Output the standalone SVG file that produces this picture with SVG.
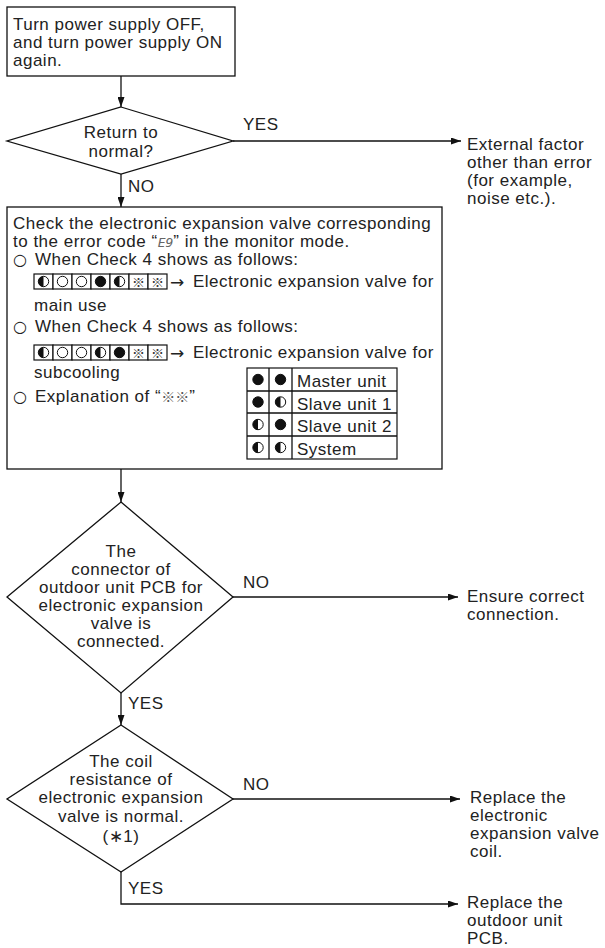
<svg xmlns="http://www.w3.org/2000/svg" width="605" height="948" viewBox="0 0 605 948">
<style>
text{font-family:"Liberation Sans",Arial,sans-serif;font-size:17px;letter-spacing:0.5px;fill:#222}
.c{text-anchor:middle}
.shape{fill:#fff;stroke:#111;stroke-width:1.3}
.ln{fill:none;stroke:#111;stroke-width:1.3}
.cell{fill:#fff;stroke:#111;stroke-width:1.2}
.dot{fill:#111;stroke:#111;stroke-width:1}
.ring{fill:#fff;stroke:#111;stroke-width:1}
.km{font-family:"Noto Sans CJK JP",sans-serif;font-size:13px;letter-spacing:0;fill:#333;text-anchor:middle}
.bul{font-family:"DejaVu Sans",sans-serif;font-size:16px;letter-spacing:0}
.arr{font-family:"DejaVu Sans",sans-serif;font-size:17px;letter-spacing:0}
</style>
<defs>
<marker id="ah" markerUnits="userSpaceOnUse" markerWidth="10" markerHeight="7" refX="10" refY="3.5" orient="auto">
<path d="M0,0 L10,3.5 L0,7 z" fill="#111"/>
</marker>
<g id="half"><circle r="5.2" class="ring"/><path d="M0,-5.2 A5.2,5.2 0 0 0 0,5.2 z" fill="#111"/></g>
<g id="full"><circle r="5.2" class="dot"/></g>
<g id="empty"><circle r="5.2" class="ring"/></g>
</defs>

<g id="connectors">
<line class="ln" x1="121" y1="76" x2="121" y2="107" marker-end="url(#ah)"/>
<line class="ln" x1="233" y1="141" x2="461" y2="141" marker-end="url(#ah)"/>
<line class="ln" x1="121" y1="174" x2="121" y2="207" marker-end="url(#ah)"/>
<line class="ln" x1="121" y1="469" x2="121" y2="502" marker-end="url(#ah)"/>
<line class="ln" x1="233" y1="597" x2="458" y2="597" marker-end="url(#ah)"/>
<line class="ln" x1="121" y1="693" x2="121" y2="725" marker-end="url(#ah)"/>
<line class="ln" x1="233" y1="799" x2="460" y2="799" marker-end="url(#ah)"/>
<polyline class="ln" points="121,872 121,904 458,904" marker-end="url(#ah)"/>
<text x="243" y="130">YES</text>
<text x="128" y="192">NO</text>
<text x="243" y="588">NO</text>
<text x="128" y="709">YES</text>
<text x="243" y="790">NO</text>
<text x="128" y="894">YES</text>
</g>

<g id="start">
<rect class="shape" x="7" y="7" width="228" height="69"/>
<text x="13" y="30">Turn power supply OFF,</text>
<text x="13" y="48">and turn power supply ON</text>
<text x="13" y="66">again.</text>
</g>

<g id="decision1">
<polygon class="shape" points="121,107 233,141 121,174 7,141"/>
<text class="c" x="121" y="138">Return to</text>
<text class="c" x="121" y="157">normal?</text>
</g>

<g id="external">
<text x="467" y="150">External factor</text>
<text x="467" y="168">other than error</text>
<text x="467" y="186">(for example,</text>
<text x="467" y="204">noise etc.).</text>
</g>

<g id="check">
<rect class="shape" x="7" y="207" width="435" height="262"/>
<text x="13" y="229">Check the electronic expansion valve corresponding</text>
<text x="13" y="247">to the error code “<tspan font-family="DejaVu Sans Mono" font-style="italic" font-size="13" letter-spacing="0" fill="#666">E9</tspan>” in the monitor mode.</text>
<text y="265"><tspan class="bul" x="13">○</tspan><tspan x="35">When Check 4 shows as follows:</tspan></text>
<g id="row1">
<rect class="cell" x="34" y="274" width="19" height="15"/>
<rect class="cell" x="53" y="274" width="19" height="15"/>
<rect class="cell" x="72" y="274" width="19" height="15"/>
<rect class="cell" x="91" y="274" width="19" height="15"/>
<rect class="cell" x="110" y="274" width="19" height="15"/>
<rect class="cell" x="129" y="274" width="19" height="15"/>
<rect class="cell" x="148" y="274" width="19" height="15"/>
<use href="#half" x="43.5" y="281.5"/>
<use href="#empty" x="62.5" y="281.5"/>
<use href="#empty" x="81.5" y="281.5"/>
<use href="#full" x="100.5" y="281.5"/>
<use href="#half" x="119.5" y="281.5"/>
<text class="km" x="138.5" y="286.5">※</text>
<text class="km" x="157.5" y="286.5">※</text>
</g>
<text class="arr" x="170" y="288">→</text>
<text x="193" y="287">Electronic expansion valve for</text>
<text x="34" y="311">main use</text>
<text y="332"><tspan class="bul" x="13">○</tspan><tspan x="35">When Check 4 shows as follows:</tspan></text>
<g id="row2">
<rect class="cell" x="34" y="345" width="19" height="15"/>
<rect class="cell" x="53" y="345" width="19" height="15"/>
<rect class="cell" x="72" y="345" width="19" height="15"/>
<rect class="cell" x="91" y="345" width="19" height="15"/>
<rect class="cell" x="110" y="345" width="19" height="15"/>
<rect class="cell" x="129" y="345" width="19" height="15"/>
<rect class="cell" x="148" y="345" width="19" height="15"/>
<use href="#half" x="43.5" y="352.5"/>
<use href="#empty" x="62.5" y="352.5"/>
<use href="#empty" x="81.5" y="352.5"/>
<use href="#half" x="100.5" y="352.5"/>
<use href="#full" x="119.5" y="352.5"/>
<text class="km" x="138.5" y="357.5">※</text>
<text class="km" x="157.5" y="357.5">※</text>
</g>
<text class="arr" x="170" y="359">→</text>
<text x="193" y="358">Electronic expansion valve for</text>
<text x="34" y="378">subcooling</text>
<text y="402"><tspan class="bul" x="13">○</tspan><tspan x="35">Explanation of “<tspan font-family="Noto Sans CJK JP" font-size="14" letter-spacing="0" fill="#555">※※</tspan>”</tspan></text>
<g id="legend">
<rect class="cell" x="247" y="368" width="150" height="91"/>
<line class="ln" x1="269" y1="368" x2="269" y2="459" stroke-width="1.2"/>
<line class="ln" x1="292" y1="368" x2="292" y2="459" stroke-width="1.2"/>
<line class="ln" x1="247" y1="391" x2="397" y2="391" stroke-width="1.2"/>
<line class="ln" x1="247" y1="413" x2="397" y2="413" stroke-width="1.2"/>
<line class="ln" x1="247" y1="436" x2="397" y2="436" stroke-width="1.2"/>
<use href="#full" x="258" y="379.5"/><use href="#full" x="280.5" y="379.5"/>
<use href="#full" x="258" y="402"/><use href="#half" x="280.5" y="402"/>
<use href="#half" x="258" y="424.5"/><use href="#full" x="280.5" y="424.5"/>
<use href="#half" x="258" y="447.5"/><use href="#half" x="280.5" y="447.5"/>
<text x="297" y="387">Master unit</text>
<text x="297" y="410">Slave unit 1</text>
<text x="297" y="432">Slave unit 2</text>
<text x="297" y="455">System</text>
</g>
</g>

<g id="decision2">
<polygon class="shape" points="121,502 233,597 121,693 7,597"/>
<text class="c" x="121" y="557">The</text>
<text class="c" x="121" y="575">connector of</text>
<text class="c" x="121" y="593">outdoor unit PCB for</text>
<text class="c" x="121" y="611">electronic expansion</text>
<text class="c" x="121" y="629">valve is</text>
<text class="c" x="121" y="647">connected.</text>
</g>

<g id="ensure">
<text x="467" y="602">Ensure correct</text>
<text x="467" y="620">connection.</text>
</g>

<g id="decision3">
<polygon class="shape" points="121,725 233,799 121,872 7,799"/>
<text class="c" x="121" y="767">The coil</text>
<text class="c" x="121" y="785">resistance of</text>
<text class="c" x="121" y="803">electronic expansion</text>
<text class="c" x="121" y="822">valve is normal.</text>
<text class="c" x="121" y="842">(∗1)</text>
</g>

<g id="replaceCoil">
<text x="470" y="803">Replace the</text>
<text x="470" y="821">electronic</text>
<text x="470" y="839">expansion valve</text>
<text x="470" y="857">coil.</text>
</g>

<g id="replacePCB">
<text x="467" y="908">Replace the</text>
<text x="467" y="926">outdoor unit</text>
<text x="467" y="944">PCB.</text>
</g>
</svg>
